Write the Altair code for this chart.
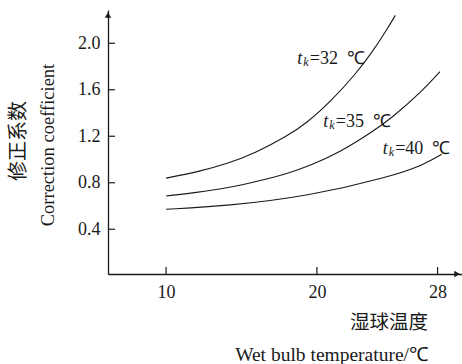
import altair as alt
import pandas as pd

# ---- data ----
x32 = [10.0, 12.0, 14.0, 16.0, 18.0, 19.3, 21.0, 22.6, 23.7, 24.6, 25.2]
y32 = [0.84, 0.89, 0.96, 1.06, 1.20, 1.31, 1.51, 1.74, 1.93, 2.11, 2.24]
x35 = [10.0, 12.0, 14.0, 16.0, 18.2, 19.5, 21.5, 23.7, 24.85, 27.06, 28.16]
y35 = [0.686, 0.716, 0.753, 0.81, 0.885, 0.945, 1.06, 1.24, 1.345, 1.598, 1.756]
x40 = [10.0, 14.0, 19.5, 24.85, 27.06, 28.28]
y40 = [0.572, 0.600, 0.686, 0.852, 0.953, 1.045]

x_ticks = [10, 20, 28]
y_ticks = [0.4, 0.8, 1.2, 1.6, 2.0]

label_texts = ["=32\u2002℃", "=35\u2002℃", "=40\u2002℃"]
label_x = [18.70, 20.42, 24.36]
label_y = [1.822, 1.283, 1.048]

X_DOMAIN = [6.15, 29.62]
Y_DOMAIN = [0.015, 2.286]
W, H = 354, 264
FONT = "Liberation Serif"
CJK = "Noto Sans CJK SC"
INK = "#1a1a1a"

rows = []
for name, xs, ys in (("32", x32, y32), ("35", x35, y35), ("40", x40, y40)):
    for a, b in zip(xs, ys):
        rows.append({"series": name, "t": a, "c": b})
df = pd.DataFrame(rows)

xs = alt.Scale(domain=X_DOMAIN, nice=False, zero=False)
ys = alt.Scale(domain=Y_DOMAIN, nice=False, zero=False)

lines = alt.Chart(df).mark_line(interpolate="basis", color=INK, strokeWidth=1.1).encode(
    x=alt.X("t:Q", scale=xs,
            axis=alt.Axis(values=x_ticks, title=None, ticks=False, grid=False,
                          domainColor=INK, domainWidth=1.3, labelFont=FONT,
                          labelFontSize=18, labelColor=INK, labelPadding=9,
                          format="d")),
    y=alt.Y("c:Q", scale=ys,
            axis=alt.Axis(values=y_ticks, title=None, ticks=False, grid=False,
                          domainColor=INK, domainWidth=1.3, labelFont=FONT,
                          labelFontSize=18, labelColor=INK, labelPadding=8,
                          format=".1f")),
    detail="series:N",
)

ytick_df = pd.DataFrame({"v": y_ticks})
xtick_df = pd.DataFrame({"v": x_ticks})
yt = alt.Chart(ytick_df).mark_rule(color=INK, strokeWidth=1.2).encode(
    y=alt.Y("v:Q", scale=ys), x=alt.value(0), x2=alt.value(7))
xt = alt.Chart(xtick_df).mark_rule(color=INK, strokeWidth=1.2).encode(
    x=alt.X("v:Q", scale=xs), y=alt.value(H), y2=alt.value(H - 7))

one = pd.DataFrame({"a": [0]})
arrow_up = alt.Chart(one).mark_point(shape="triangle-up", filled=True, color=INK,
                                     size=40, opacity=1).encode(
    x=alt.value(0), y=alt.value(5))
arrow_right = alt.Chart(one).mark_point(shape="triangle-right", filled=True, color=INK,
                                        size=40, opacity=1).encode(
    x=alt.value(W - 5), y=alt.value(H))

lab_df = pd.DataFrame({"txt": label_texts, "x": label_x, "y": label_y})
lab_t = alt.Chart(lab_df).mark_text(font=FONT, fontSize=18, fontStyle="italic",
                                   align="left", baseline="alphabetic", color=INK).encode(
    x=alt.X("x:Q", scale=xs), y=alt.Y("y:Q", scale=ys), text=alt.value("t"))
lab_k = alt.Chart(lab_df).mark_text(font=FONT, fontSize=12, fontStyle="italic",
                                   align="left", baseline="alphabetic", color=INK,
                                   dx=6, dy=2).encode(
    x=alt.X("x:Q", scale=xs), y=alt.Y("y:Q", scale=ys), text=alt.value("k"))
lab_rest = alt.Chart(lab_df).mark_text(font=FONT, fontSize=18,
                                      align="left", baseline="alphabetic", color=INK,
                                      dx=12.5).encode(
    x=alt.X("x:Q", scale=xs), y=alt.Y("y:Q", scale=ys), text="txt:N")

ytitle_cn = alt.Chart(one).mark_text(font=CJK, fontSize=20, angle=270, color=INK,
                                     align="center", baseline="middle").encode(
    x=alt.value(-89), y=alt.value(131), text=alt.value("修正系数"))
ytitle_en = alt.Chart(one).mark_text(font=FONT, fontSize=18.5, angle=270, color=INK,
                                     align="center", baseline="middle").encode(
    x=alt.value(-60), y=alt.value(135), text=alt.value("Correction coefficient"))
xtitle_cn = alt.Chart(one).mark_text(font=CJK, fontSize=19.5, color=INK,
                                     align="right", baseline="middle").encode(
    x=alt.value(320), y=alt.value(313), text=alt.value("湿球温度"))
xtitle_en = alt.Chart(one).mark_text(font=FONT, fontSize=19.5, color=INK,
                                     align="right", baseline="middle").encode(
    x=alt.value(320), y=alt.value(345), text=alt.value("Wet bulb temperature/℃"))

chart = alt.layer(
    lines, yt, xt, arrow_up, arrow_right, lab_t, lab_k, lab_rest,
    ytitle_cn, ytitle_en, xtitle_cn, xtitle_en,
).properties(
    width=W, height=H,
    autosize=alt.AutoSizeParams(type="none"),
    padding={"left": 108, "top": 10, "right": 0, "bottom": 90},
    background="white",
).configure_view(stroke=None)

chart.save("out.html", embed_options={"renderer": "svg", "actions": False})
